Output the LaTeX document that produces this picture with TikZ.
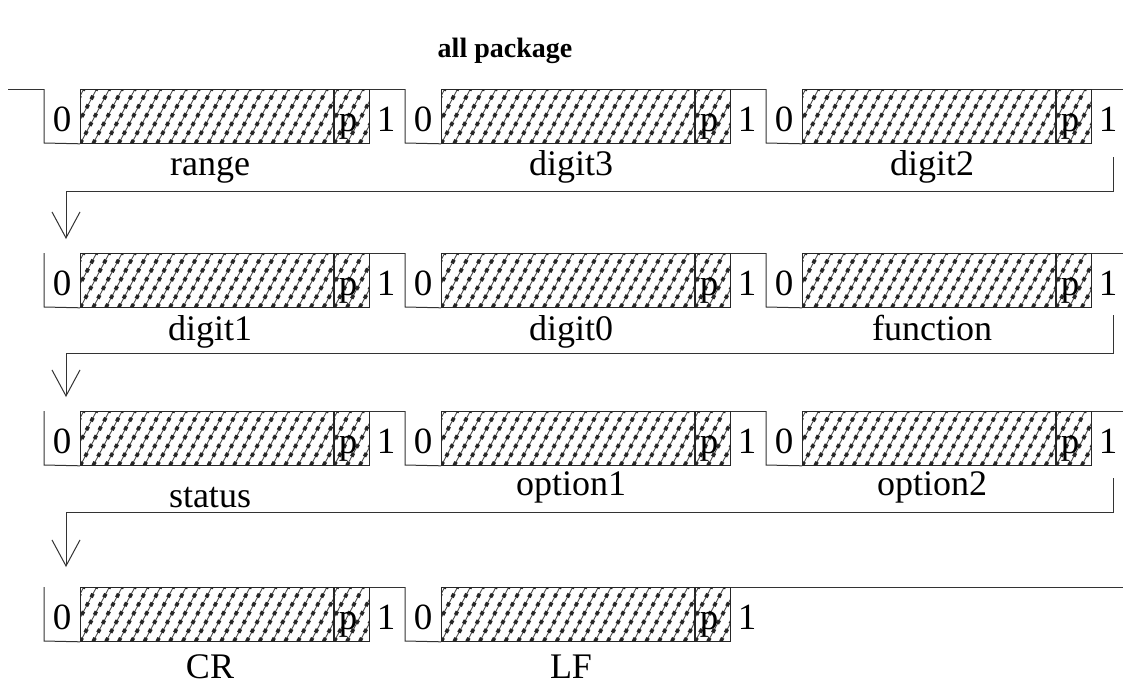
\documentclass[tikz,border=0pt]{standalone}
\usepackage{fontspec}
\setmainfont{Liberation Serif}
\usetikzlibrary{arrows.meta}
\tikzset{
  wave/.style={draw=black!80, line width=1pt},
  hatchthin/.style={line width=0.9pt, draw=black!70},
  hatchline/.style={line width=3.6pt, dash pattern=on 4pt off 6pt, line cap=butt},
  hatchbox/.style={draw=black!85, line width=0.8pt, inner sep=0pt, minimum height=54pt, anchor=north west,
     path picture={\foreach \k in {-4,...,21}{
        \draw[hatchthin] ([xshift=\k*12.8pt]path picture bounding box.south west) -- ++(32pt,60pt);
        \draw[hatchline] ([xshift=\k*12.8pt]path picture bounding box.south west) -- ++(32pt,60pt);}}},
  digit/.style={font=\fontsize{37}{40}\selectfont, inner sep=0pt, anchor=base},
  lbl/.style={font=\fontsize{36}{40}\selectfont, inner sep=0pt, anchor=base},
  titlestyle/.style={font=\fontsize{28}{32}\selectfont\bfseries, inner sep=0pt, anchor=base},
  conn/.style={line width=1pt, draw=black!80},
  arr/.style={conn, -{Straight Barb[length=26pt,width=28pt,line width=1pt]}},
}
% #1 name, #2 x0, #3 top, #4 label, #5 label baseline, #6 end x of top line
\newcommand\pkgframe[6]{%
  \node[hatchbox, minimum width=253pt] (#1h) at ({#2+36},#3) {};
  \node[hatchbox, minimum width=35pt] (#1p) at (#1h.north east) {};
  \node[digit] (#1pt) at ({#2+304},{#3+42}) {p};
  \node[digit] (#1z) at ({#2+18},{#3+42}) {0};
  \node[digit] (#1o) at ({#2+342},{#3+42}) {1};
  \draw[wave] (#2,#3) -- (#2,{#3+54}) -- (#1h.south west);
  \draw[wave] (#1p.north east) -- (#6,#3);
  \node[lbl] (#1l) at ({#2+166},#5) {#4};
}
\begin{document}
\begin{tikzpicture}[x=1pt,y=-1pt]
\fill[white] (0,0) rectangle (1123,688);
\useasboundingbox (0,0) rectangle (1123,688);

\node[titlestyle] (title) at (505,57) {all package};

% row 1
\coordinate (start) at (8,89);
\draw[wave] (start) -- (44,89);
\pkgframe{ra}{44}{89}{range}{175}{405}
\pkgframe{rb}{405}{89}{digit3}{175}{766}
\pkgframe{rc}{766}{89}{digit2}{175}{1123}

% row 2
\pkgframe{sa}{44}{253}{digit1}{340}{405}
\pkgframe{sb}{405}{253}{digit0}{340}{766}
\pkgframe{sc}{766}{253}{function}{340}{1123}

% row 3
\pkgframe{ta}{44}{411}{status}{507}{405}
\pkgframe{tb}{405}{411}{option1}{495}{766}
\pkgframe{tc}{766}{411}{option2}{495}{1123}

% row 4
\pkgframe{ua}{44}{587}{CR}{678}{405}
\pkgframe{ub}{405}{587}{LF}{678}{1123}

% connectors
\coordinate (c1a) at (1113,157); \coordinate (c1b) at (1113,191);
\coordinate (c1c) at (66,191);   \coordinate (c1d) at (66,239);
\draw[arr] (c1a) -- (c1b) -- (c1c) -- (c1d);

\coordinate (c2a) at (1113,315); \coordinate (c2b) at (1113,353);
\coordinate (c2c) at (66,353);   \coordinate (c2d) at (66,397);
\draw[arr] (c2a) -- (c2b) -- (c2c) -- (c2d);

\coordinate (c3a) at (1113,478); \coordinate (c3b) at (1113,512);
\coordinate (c3c) at (66,512);   \coordinate (c3d) at (66,567);
\draw[arr] (c3a) -- (c3b) -- (c3c) -- (c3d);
\end{tikzpicture}
\end{document}
